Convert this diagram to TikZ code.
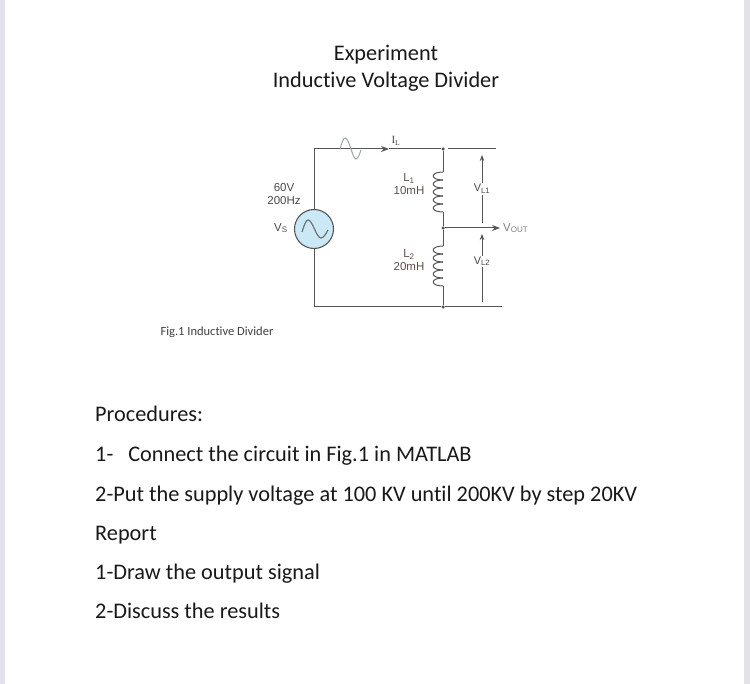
\documentclass[tikz,border=0pt]{standalone}
\usepackage{fontspec}
\setmainfont{Carlito}[Ligatures=NoCommon]
\newfontfamily\labelfont{Liberation Sans}
\newfontfamily\currentfont{Liberation Serif}
\usepackage{xcolor}
\usetikzlibrary{positioning, arrows.meta}
\definecolor{wirecol}{HTML}{555555}
\definecolor{labelcol}{HTML}{4A4A4A}
\definecolor{coilcol}{HTML}{5E4E4A}
\definecolor{srcfill}{HTML}{CBE8F6}
\definecolor{sinecol}{HTML}{9AA4AA}
\definecolor{edgecol}{HTML}{E2E2E8}
\newcommand{\coilat}[1]{%
    \foreach \k in {0,...,4}{
        \draw[wire] ([yshift=-\k*8pt]#1) .. controls +(-13,0) and +(-13,0) .. +(0,8);
    }%
}
\tikzset{
    wire/.style={draw=wirecol, line width=1pt},
    tip/.style={-{Stealth[length=8pt, width=6pt]}},
    dot/.style={circle, fill=wirecol, inner sep=0pt, minimum size=3.5pt},
    doctext/.style={anchor=base west, inner sep=0pt, font=\fontsize{22.3}{26}\selectfont, text=black!90},
    heading/.style={anchor=base, inner sep=0pt, font=\fontsize{22.3}{26}\selectfont, text=black!90},
    cktlabel/.style={inner sep=0pt, align=center, text=labelcol, font=\labelfont\fontsize{11.5}{13}\selectfont},
}
\begin{document}
\begin{tikzpicture}[x=1pt, y=-1pt]
    \useasboundingbox (0,0) rectangle (750,684);
    \fill[edgecol] (0,0) rectangle (5,684);
    \fill[edgecol] (744,0) rectangle (750,684);
    % headings
    \node[heading] (title1) at (386,61) {Experiment};
    \node[heading] (title2) at (386,88) {Inductive Voltage Divider};
    % circuit
    \node[circle, draw=wirecol, fill=srcfill, line width=1.1pt, minimum size=39pt, inner sep=0pt] (vs) at (314,229) {};
    \coordinate (cornerT) at (314,149);
    \coordinate (cornerB) at (314,307);
    \coordinate (arrowI) at (389,149);
    \node[dot] (top) at (443,149) {};
    \node[dot] (mid) at (443,228) {};
    \node[dot] (bot) at (443,307) {};
    \coordinate (coilA) at (443,172);
    \coordinate (coilB) at (443,212);
    \coordinate (coilC) at (443,246);
    \coordinate (coilD) at (443,286);
    \coordinate (railT) at (448,149);
    \coordinate (railTend) at (496,149);
    \coordinate (railBend) at (502,307);
    \coordinate (outEnd) at (500,228);
    \draw[wire] (vs) -- (cornerT);
    \draw[wire, tip] (cornerT) -- (arrowI);
    \draw[wire] (arrowI) -- (top) -- (coilA);
    \draw[wire] (coilB) -- (mid) -- (coilC);
    \draw[wire] (coilD) -- (bot);
    \draw[wire] (vs) -- (cornerB) -- (bot) -- (railBend);
    \draw[wire] (railT) -- (railTend);
    \draw[wire, tip] (mid) -- (outEnd);
    \coilat{coilA}
    \coilat{coilC}
    % sine waves
    \draw[sinecol, line width=1pt] (340,149) sin (345,138) cos (351,149) sin (356,159) cos (361,150);
    \draw[wirecol!80!srcfill, line width=1.2pt] (302,232) sin (308,220) cos (314.5,229) sin (321,238) cos (328,230);
    % voltage arrows
    \coordinate (vlAbot) at (482,223);
    \coordinate (vlAtop) at (482,155);
    \coordinate (vlBbot) at (482,302);
    \coordinate (vlBtop) at (482,234);
    \draw[wirecol, line width=0.9pt, -{Stealth[length=6pt, width=4.5pt]}] (vlAbot) -- node[pos=0.5, fill=white, inner sep=1pt, text=labelcol, font=\labelfont\fontsize{11}{12}\selectfont] (vla) {V\textsubscript{L1}} (vlAtop);
    \draw[wirecol, line width=0.9pt, -{Stealth[length=6pt, width=4.5pt]}] (vlBbot) -- node[pos=0.6, fill=white, inner sep=1pt, text=labelcol, font=\labelfont\fontsize{11}{12}\selectfont] (vlb) {V\textsubscript{L2}} (vlBtop);
    % labels
    \node[cktlabel, anchor=west, text=labelcol!70] (vout) at (503,228) {V\textsubscript{OUT}};
    \node[cktlabel] (supply) at (284,194.5) {60V\\200Hz};
    \node[cktlabel] (vsname) at (281,228) {V\textsubscript{S}};
    \node[cktlabel, text=coilcol] (l1name) at (409,184) {L\textsubscript{1}\\10mH};
    \node[cktlabel, text=coilcol] (l2name) at (409,260) {L\textsubscript{2}\\20mH};
    \node[inner sep=0pt, text=labelcol, font=\currentfont\fontsize{11}{12}\selectfont] (il) at (396,141) {I\textsubscript{L}};
    \node[anchor=base, inner sep=0pt, text=black!75, font=\fontsize{12.5}{14}\selectfont] (figname) at (217,336) {Fig.1 Inductive Divider};
    % procedure text
    \node[doctext] (proc) at (95,422) {Procedures:};
    \node[doctext] (step1) at (95,461) {1-\hspace{15pt}Connect the circuit in Fig.1 in MATLAB};
    \node[doctext] (step2) at (95,501) {2-Put the supply voltage at 100 KV until 200KV by step 20KV};
    \node[doctext] (report) at (95,540) {Report};
    \node[doctext] (rep1) at (95,579) {1-Draw the output signal};
    \node[doctext] (rep2) at (95,618) {2-Discuss the results};
\end{tikzpicture}
\end{document}
